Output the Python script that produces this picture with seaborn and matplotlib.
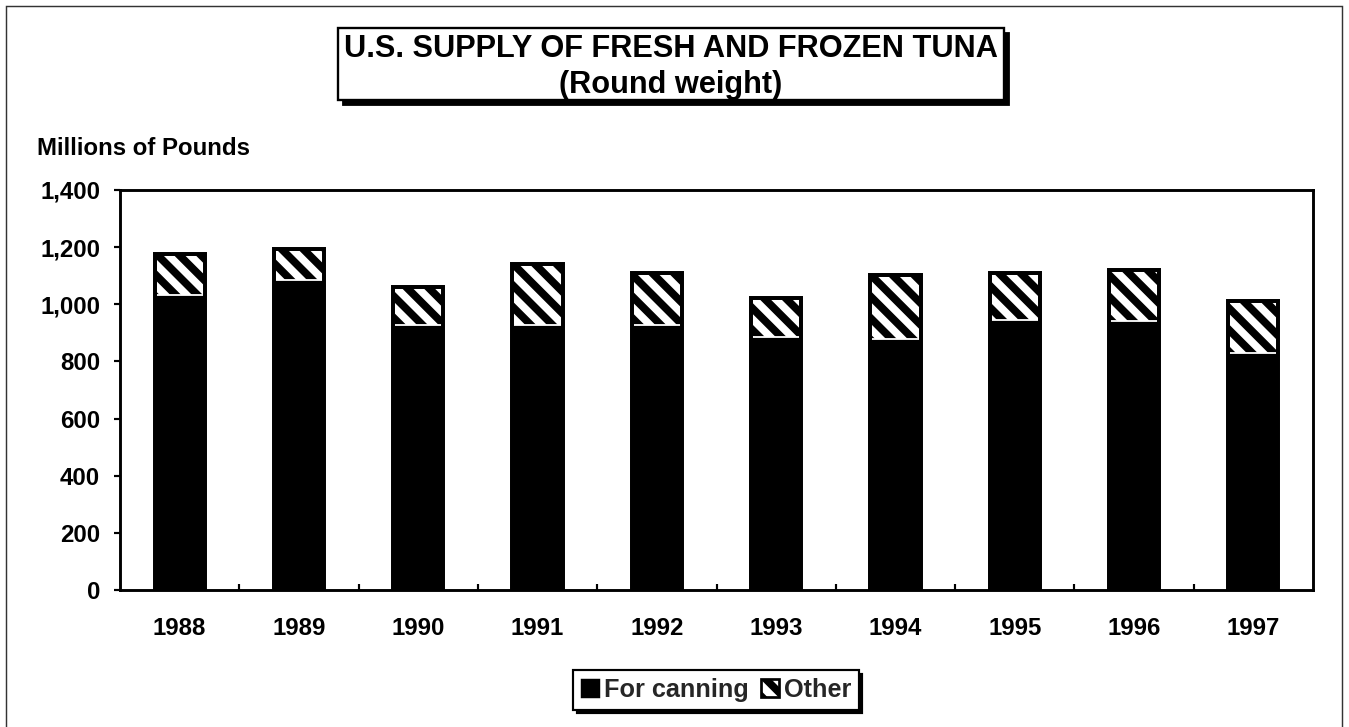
import matplotlib
matplotlib.use("Agg")
import matplotlib.pyplot as plt
from matplotlib.patches import Rectangle, Patch
from matplotlib.ticker import FuncFormatter, FixedLocator
import numpy as np
import pandas as pd
import seaborn as sns

# Millions of pounds, round weight
years = ["1988", "1989", "1990", "1991", "1992", "1993", "1994", "1995", "1996", "1997"]
for_canning = [1032, 1085, 926, 928, 926, 887, 879, 944, 941, 828]
other = [143, 108, 135, 213, 182, 134, 223, 164, 178, 183]
y_ticks = [0, 200, 400, 600, 800, 1000, 1200, 1400]

df = pd.DataFrame({"year": years, "canning": for_canning, "other": other})
df["total"] = df["canning"] + df["other"]

sns.set_theme(style="white")
plt.rcParams["font.family"] = ["Liberation Sans", "DejaVu Sans"]
plt.rcParams["font.weight"] = "bold"
plt.rcParams["hatch.linewidth"] = 4.2

W, H, DPI = 1349, 727, 130
fig = plt.figure(figsize=(W / DPI, H / DPI), dpi=DPI)
fig.patch.set_facecolor("white")


def fx(px):
    return px / W


def fy(py):
    return 1 - py / H


ax = fig.add_axes([fx(120), fy(590), fx(1313) - fx(120), fy(190) - fy(590)])

# stacked bars: full height hatched, canning part solid on top, then outline
sns.barplot(data=df, x="year", y="total", color="black", saturation=1,
            width=0.42, ax=ax, errorbar=None)
n_total = len(ax.patches)
for p in ax.patches[:n_total]:
    p.set_facecolor("black")
    p.set_edgecolor("white")
    p.set_hatch("\\\\")
    p.set_linewidth(0)

sns.barplot(data=df, x="year", y="canning", color="black", saturation=1,
            width=0.42, ax=ax, errorbar=None)
sns.barplot(data=df, x="year", y="total", color="black", saturation=1,
            width=0.42, ax=ax, errorbar=None, fill=False, linewidth=2.2)

ax.set_ylim(0, 1400)
ax.set_xlim(-0.5, len(years) - 0.5)
ax.set_yticks(y_ticks)
ax.yaxis.set_major_formatter(FuncFormatter(lambda v, _: f"{int(v):,}"))
ax.set_xlabel("")
ax.set_ylabel("")

ax.tick_params(axis="y", direction="out", length=3.5, width=1.2, color="black",
               labelsize=13.3, pad=7.5, left=True)
ax.tick_params(axis="x", which="major", length=0, labelsize=13.3, pad=15)
ax.xaxis.set_minor_locator(FixedLocator(np.arange(0.5, len(years) - 1, 1.0)))
ax.tick_params(axis="x", which="minor", direction="in", length=3.5, width=1.2,
               color="black", bottom=True)
for lab in ax.get_xticklabels() + ax.get_yticklabels():
    lab.set_fontweight("bold")
    lab.set_color("black")

for side in ["left", "bottom", "right", "top"]:
    ax.spines[side].set_visible(True)
    ax.spines[side].set_color("black")
    ax.spines[side].set_linewidth(1.6)

# outer chart frame
fig.add_artist(Rectangle((fx(6), fy(735)), fx(1342) - fx(6), fy(6) - fy(735),
                         transform=fig.transFigure, fill=False,
                         edgecolor="#333333", linewidth=0.8))

# title box with drop shadow
bx0, by0, bx1, by1 = 338, 28, 1004, 100
fig.add_artist(Rectangle((fx(bx0 + 5), fy(by1 + 5)), fx(bx1) - fx(bx0), fy(by0) - fy(by1),
                         transform=fig.transFigure, facecolor="black", edgecolor="black"))
fig.add_artist(Rectangle((fx(bx0), fy(by1)), fx(bx1) - fx(bx0), fy(by0) - fy(by1),
                         transform=fig.transFigure, facecolor="white",
                         edgecolor="black", linewidth=1.3))
fig.text(fx((bx0 + bx1) / 2), fy(49), "U.S. SUPPLY OF FRESH AND FROZEN TUNA",
         ha="center", va="center", fontsize=17.0, fontweight="bold", color="black")
fig.text(fx((bx0 + bx1) / 2), fy(85), "(Round weight)",
         ha="center", va="center", fontsize=17.0, fontweight="bold", color="black")

fig.text(fx(37), fy(155), "Millions of Pounds", ha="left", va="baseline",
         fontsize=13.3, fontweight="bold", color="black")

# legend
h_can = Patch(facecolor="black", edgecolor="black", linewidth=0.8)
h_oth = Patch(facecolor="white", edgecolor="black", hatch="\\\\", linewidth=1.5)
leg = fig.legend([h_can, h_oth], ["For canning", "Other"], ncol=2,
                 loc="center", bbox_to_anchor=(fx(716), fy(690)),
                 frameon=True, fancybox=False, shadow={"facecolor": "black",
                                                       "edgecolor": "black",
                                                       "alpha": 1},
                 handlelength=0.7, handleheight=0.7, handletextpad=0.2,
                 columnspacing=0.5, borderpad=0.3, borderaxespad=0,
                 prop={"size": 14, "weight": "bold"})
leg.get_frame().set_edgecolor("black")
leg.get_frame().set_linewidth(1.2)

fig.savefig("out.png", dpi=DPI, facecolor="white")
